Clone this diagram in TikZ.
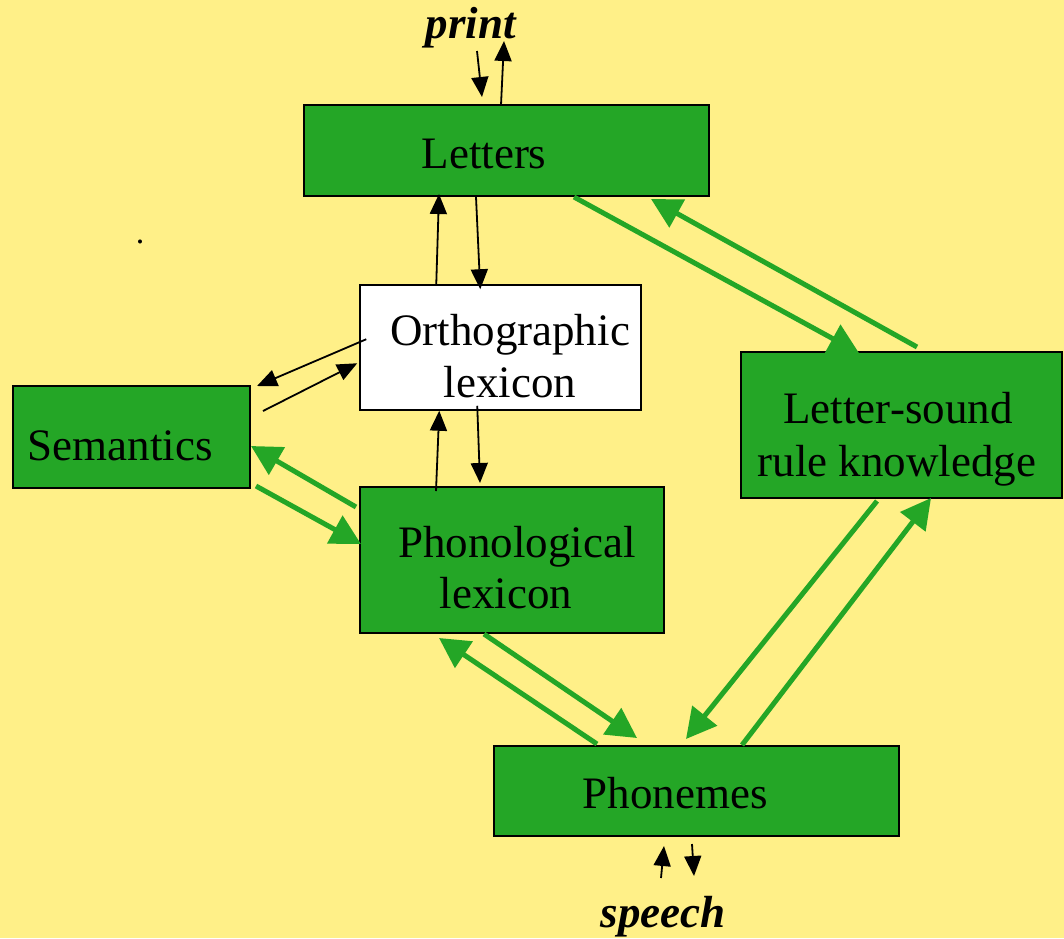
\documentclass[tikz,border=0pt]{standalone}
\usepackage{fontspec}
\setmainfont{Liberation Serif}
\usetikzlibrary{arrows.meta,calc}
\definecolor{bgyellow}{RGB}{255,240,136}
\definecolor{boxgreen}{RGB}{36,166,38}
\begin{document}
\begin{tikzpicture}[x=1pt,y=-1pt,
  box/.style={draw=black,line width=2pt,fill=boxgreen,inner sep=0pt},
  wbox/.style={draw=black,line width=1.5pt,fill=white,inner sep=0pt},
  txt/.style={anchor=base,inner sep=0pt,font=\fontsize{45}{52}\selectfont},
  itxt/.style={anchor=base,inner sep=0pt,font=\fontsize{45}{52}\selectfont\bfseries\itshape},
  blk/.style={draw=black,line width=1.8pt,-{Triangle[length=20pt,width=17pt]}},
  grn/.style={draw=boxgreen,line width=5pt,-{Triangle[length=30pt,width=31pt]}}]
\fill[bgyellow] (0,0) rectangle (1064,938);
\useasboundingbox (0,0) rectangle (1064,938);
% boxes
\node[box,minimum width=405pt,minimum height=91pt] (letters) at (506.5,150.5) {};
\node[wbox,minimum width=281pt,minimum height=125pt] (ortho) at (500.5,347.5) {};
\node[box,minimum width=237pt,minimum height=102pt] (sem) at (131.5,437) {};
\node[box,minimum width=304pt,minimum height=146pt] (phono) at (512,560) {};
\node[box,minimum width=321pt,minimum height=146pt] (ls) at (901.5,425) {};
\node[box,minimum width=405pt,minimum height=90pt] (phon) at (696.5,791) {};
% texts
\node[txt] (tletters) at (484,168) {Letters};
\node[txt] (tortho1) at (510,345) {Orthographic};
\node[txt] (tortho2) at (510,397) {lexicon};
\node[txt] (tsem) at (120,460) {Semantics};
\node[txt] (tphono1) at (517,557) {Phonological};
\node[txt] (tphono2) at (506,608) {lexicon};
\node[txt] (tls1) at (898,423) {Letter-sound};
\node[txt] (tls2) at (897,476) {rule knowledge};
\node[txt] (tphon) at (675,808) {Phonemes};
\node[itxt] (print) at (471,38) {print};
\node[itxt] (speech) at (663,927) {speech};
\node[anchor=base,inner sep=0pt,font=\fontsize{34}{40}\selectfont] (dot) at (140,243) {.};
% black arrows
\draw[blk] ($(letters.north west)+(174,-53)$) -- ($(letters.north west)+(179,-7)$);
\draw[blk] ($(letters.north west)+(198,1)$) -- ($(letters.north west)+(201,-63)$);
\draw[blk] ($(ortho.north west)+(77,0)$) -- ($(letters.south west)+(136,-3)$);
\draw[blk] ($(letters.south west)+(173,0)$) -- ($(ortho.north west)+(121,5)$);
\draw[blk] ($(ortho.north west)+(7,55)$) -- ($(sem.north east)+(6,1)$);
\draw[blk] ($(sem.north east)+(12,26)$) -- ($(ortho.north west)+(-2,79)$);
\draw[blk] ($(phono.north west)+(77,5)$) -- ($(ortho.south west)+(80,0)$);
\draw[blk] ($(ortho.south west)+(118,-5)$) -- ($(phono.north west)+(121,-3)$);
\draw[blk] ($(phon.south west)+(168,41)$) -- ($(phon.south west)+(171,9)$);
\draw[blk] ($(phon.south west)+(199,7)$) -- ($(phon.south west)+(201,39)$);
% green arrows
\draw[grn] ($(letters.south west)+(271,0)$) -- ($(ls.north west)+(119,2)$);
\draw[grn] ($(ls.north west)+(177,-4)$) -- ($(letters.south west)+(348,2)$);
\draw[grn] ($(sem.south east)+(5,-3)$) -- ($(phono.north west)+(2,58)$);
\draw[grn] ($(phono.north west)+(-3,21)$) -- ($(sem.north east)+(0,61)$);
\draw[grn] ($(phono.south west)+(125,0)$) -- ($(phon.north west)+(144,-7)$);
\draw[grn] ($(phon.north west)+(104,-1)$) -- ($(phono.south west)+(80,4)$);
\draw[grn] ($(ls.south west)+(137,2)$) -- ($(phon.north west)+(193,-6)$);
\draw[grn] ($(phon.north west)+(249,0)$) -- ($(ls.south west)+(191,-1)$);
\end{tikzpicture}
\end{document}
